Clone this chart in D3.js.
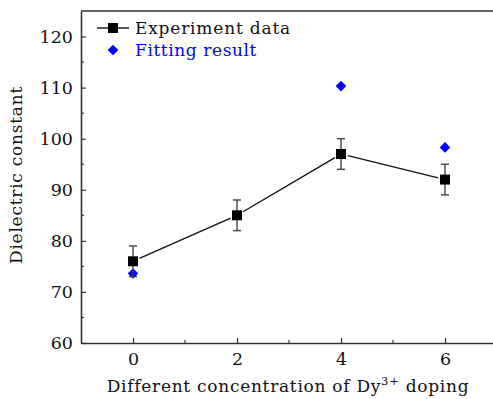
<!DOCTYPE html>
<html>
<head>
<meta charset="utf-8">
<script src="https://cdn.jsdelivr.net/npm/d3@7"></script>
<style>
  html, body { margin: 0; padding: 0; background: #fff; }
  svg { display: block; }
  text { font-family: "DejaVu Serif", serif; }
</style>
</head>
<body>
<svg id="chart" width="493" height="399"></svg>
<script>
// Dy3+ doping concentration (x) and measured / fitted dielectric constants
const concentration = [0, 2, 4, 6];
const experiment = [76, 85, 97, 92];
const experimentError = [3, 3, 3, 3];
const fitting = [73.6, 85, 110.3, 98.3];
const xTicks = [0, 2, 4, 6];
const yTicks = [60, 70, 80, 90, 100, 110, 120];
const legendLabels = ["Experiment data", "Fitting result"];

const svg = d3.select("#chart");
const margin = { left: 81, top: 11, right: -4, bottom: 56 };
const W = 493, H = 399;
const TICK_FONT = "Liberation Serif";
const LABEL_FONT = "DejaVu Serif";

const x = d3.scaleLinear().domain([-1, 7]).range([margin.left, W - margin.right]);
const y = d3.scaleLinear().domain([60, 125]).range([H - margin.bottom, margin.top]);

const axisColor = "#333";
const tickFont = 17.5;
const labelFont = 17;

// spread a text's letters so that it spans the given width
function spreadTo(sel, width) {
  const node = sel.node();
  const n = node.getNumberOfChars();
  const len = node.getComputedTextLength();
  sel.attr("letter-spacing", (width - len) / n);
}

// frame: left and bottom axes plus top line
svg.append("line").attr("x1", x(-1)).attr("x2", x(7)).attr("y1", y(125)).attr("y2", y(125))
  .attr("stroke", axisColor).attr("stroke-width", 1.5);

// x axis (ticks drawn inward)
const gx = svg.append("g").attr("transform", `translate(0,${y(60)})`)
  .call(d3.axisBottom(x).tickValues(xTicks).tickFormat(d3.format("d")).tickSizeInner(-5).tickSizeOuter(0).tickPadding(10));
gx.select(".domain").attr("stroke", axisColor).attr("stroke-width", 1.6);
gx.selectAll(".tick line").attr("stroke", axisColor).attr("stroke-width", 1.2);
gx.selectAll(".tick text").attr("font-size", tickFont).attr("fill", "#111")
  .attr("font-family", TICK_FONT);
// minor x ticks
svg.append("g").selectAll("line").data([1, 3, 5]).join("line")
  .attr("x1", d => x(d)).attr("x2", d => x(d))
  .attr("y1", y(60)).attr("y2", y(60) - 3)
  .attr("stroke", axisColor).attr("stroke-width", 1.2);

// y axis (ticks drawn inward)
const gy = svg.append("g").attr("transform", `translate(${x(-1)},0)`)
  .call(d3.axisLeft(y).tickValues(yTicks).tickFormat(d3.format("d")).tickSizeInner(-5).tickSizeOuter(0).tickPadding(8));
gy.select(".domain").attr("stroke", axisColor).attr("stroke-width", 1.6);
gy.selectAll(".tick line").attr("stroke", axisColor).attr("stroke-width", 1.2);
gy.selectAll(".tick text").attr("font-size", tickFont).attr("fill", "#111")
  .attr("font-family", TICK_FONT);
// minor y ticks
svg.append("g").selectAll("line").data([65, 75, 85, 95, 105, 115]).join("line")
  .attr("x1", x(-1)).attr("x2", x(-1) + 3)
  .attr("y1", d => y(d)).attr("y2", d => y(d))
  .attr("stroke", axisColor).attr("stroke-width", 1.2);

// axis titles
const xTitle = svg.append("text").attr("x", 288).attr("y", 392)
  .attr("text-anchor", "middle").attr("font-size", labelFont).attr("fill", "#111")
  .attr("font-family", LABEL_FONT)
  .call(t => {
    t.append("tspan").text("Different concentration of Dy");
    t.append("tspan").text("3+").attr("font-size", 11.5).attr("dy", -7);
    t.append("tspan").text(" doping").attr("dy", 7);
  });
spreadTo(xTitle, 362);
const yTitle = svg.append("text")
  .attr("transform", `translate(22,175) rotate(-90)`)
  .attr("text-anchor", "middle").attr("font-size", labelFont).attr("fill", "#111")
  .attr("font-family", LABEL_FONT)
  .text("Dielectric constant");
spreadTo(yTitle, 178);

// fitting result diamonds (drawn first, beneath the squares)
const diamond = d3.symbol().type(d3.symbolDiamond2).size(72);
svg.append("g").selectAll("path").data(concentration).join("path")
  .attr("d", diamond)
  .attr("transform", (d, i) => `translate(${x(d)},${y(fitting[i])})`)
  .attr("fill", "#0000ff");

// connecting line, with a small gap around each marker
const gap = 7;
const seg = svg.append("g");
for (let i = 0; i < concentration.length - 1; i++) {
  const x1 = x(concentration[i]), y1 = y(experiment[i]);
  const x2 = x(concentration[i + 1]), y2 = y(experiment[i + 1]);
  const len = Math.hypot(x2 - x1, y2 - y1);
  const ux = (x2 - x1) / len, uy = (y2 - y1) / len;
  seg.append("line")
    .attr("x1", x1 + ux * gap).attr("y1", y1 + uy * gap)
    .attr("x2", x2 - ux * gap).attr("y2", y2 - uy * gap)
    .attr("stroke", "#111").attr("stroke-width", 1.4);
}

// error bars
const eb = svg.append("g").attr("stroke", "#444").attr("stroke-width", 1.4);
concentration.forEach((c, i) => {
  const cx = x(c), top = y(experiment[i] + experimentError[i]), bot = y(experiment[i] - experimentError[i]);
  eb.append("line").attr("x1", cx).attr("x2", cx).attr("y1", top).attr("y2", bot);
  eb.append("line").attr("x1", cx - 4).attr("x2", cx + 4).attr("y1", top).attr("y2", top);
  eb.append("line").attr("x1", cx - 4).attr("x2", cx + 4).attr("y1", bot).attr("y2", bot);
});

// experiment squares
const sq = 10;
svg.append("g").selectAll("rect").data(concentration).join("rect")
  .attr("x", d => x(d) - sq / 2)
  .attr("y", (d, i) => y(experiment[i]) - sq / 2)
  .attr("width", sq).attr("height", sq).attr("fill", "#000");

// legend
const lg = svg.append("g");
lg.append("line").attr("x1", 97).attr("x2", 129).attr("y1", 28).attr("y2", 28)
  .attr("stroke", "#111").attr("stroke-width", 1.4);
lg.append("rect").attr("x", 113 - sq / 2).attr("y", 28 - sq / 2).attr("width", sq).attr("height", sq).attr("fill", "#000");
const lg1 = lg.append("text").attr("x", 135).attr("y", 34).attr("font-size", labelFont).attr("fill", "#111")
  .attr("font-family", LABEL_FONT).text(legendLabels[0]);
spreadTo(lg1, 156);
lg.append("path").attr("d", diamond).attr("transform", "translate(113,50)").attr("fill", "#0000ff");
const lg2 = lg.append("text").attr("x", 135).attr("y", 56).attr("font-size", labelFont).attr("fill", "#0000ff")
  .attr("font-family", LABEL_FONT).text(legendLabels[1]);
spreadTo(lg2, 122);
</script>
</body>
</html>
